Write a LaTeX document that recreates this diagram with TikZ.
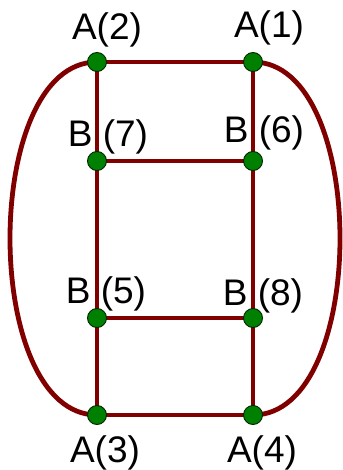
\documentclass[tikz,border=0pt]{standalone}
\usepackage{fontspec}
\setmainfont{Liberation Sans}
\definecolor{edgecol}{RGB}{128,0,0}
\definecolor{nodecol}{RGB}{0,128,0}
\begin{document}
\begin{tikzpicture}[x=1pt,y=-1pt,
  vert/.style={circle,fill=nodecol,draw=black!70!nodecol,line width=0.9pt,minimum size=19pt,inner sep=0pt},
  lab/.style={anchor=base,font=\fontsize{37}{44}\selectfont,inner sep=0pt},
  edge/.style={draw=edgecol,line width=4.8pt}]
\useasboundingbox (0,0) rectangle (342,470);
\coordinate (a2) at (97,62);
\coordinate (a1) at (253,62);
\coordinate (b7) at (97,161);
\coordinate (b6) at (253,161);
\coordinate (b5) at (97,318);
\coordinate (b8) at (253,318);
\coordinate (a3) at (97,415);
\coordinate (a4) at (253,415);
\path[edge] (a2) -- (a1);
\path[edge] (b7) -- (b6);
\path[edge] (b5) -- (b8);
\path[edge] (a3) -- (a4);
\path[edge] (a2) -- (b7) -- (b5) -- (a3);
\path[edge] (a1) -- (b6) -- (b8) -- (a4);
\path[edge] (a2) .. controls (-19,62) and (-19,415) .. (a3);
\path[edge] (a1) .. controls (369,62) and (369,415) .. (a4);
\node[vert] (A2) at (a2) {};
\node[vert] (A1) at (a1) {};
\node[vert] (B7) at (b7) {};
\node[vert] (B6) at (b6) {};
\node[vert] (B5) at (b5) {};
\node[vert] (B8) at (b8) {};
\node[vert] (A3) at (a3) {};
\node[vert] (A4) at (a4) {};
\node[lab] (LA2) at (107,40) {A(2)};
\node[lab] (LA1) at (269,38) {A(1)};
\node[lab] (LB7) at (108,147) {B (7)};
\node[lab] (LB6) at (264,143) {B (6)};
\node[lab] (LB5) at (106,303) {B (5)};
\node[lab] (LB8) at (263,305) {B (8)};
\node[lab] (LA3) at (105,462) {A(3)};
\node[lab] (LA4) at (262,462) {A(4)};
\end{tikzpicture}
\end{document}
